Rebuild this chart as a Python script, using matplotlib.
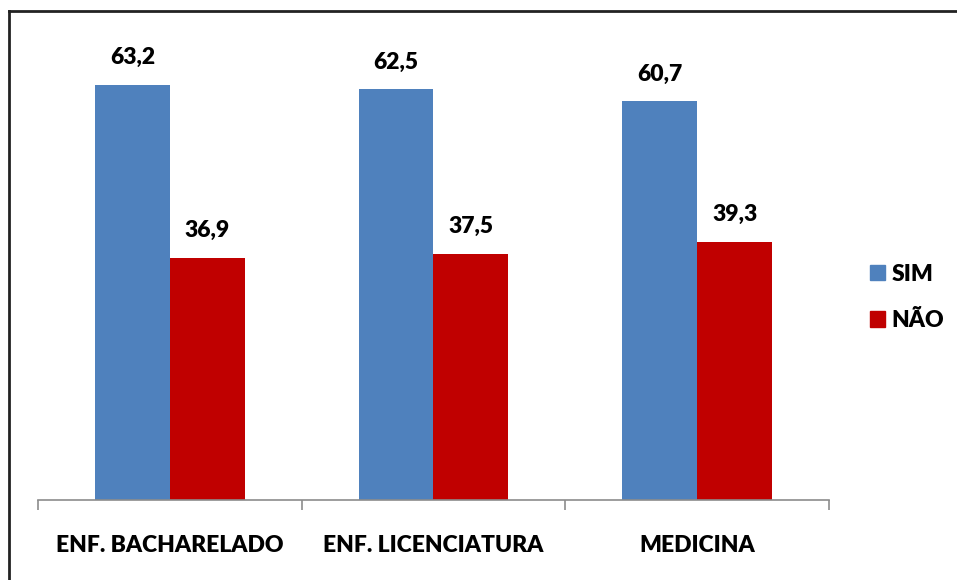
import matplotlib.pyplot as plt
from matplotlib.lines import Line2D
from matplotlib.patches import Patch
import numpy as np

categories = ["ENF. BACHARELADO", "ENF. LICENCIATURA", "MEDICINA"]
sim_values = [63.2, 62.5, 60.7]
nao_values = [36.9, 37.5, 39.3]
series_names = ["SIM", "NÃO"]

BLUE = "#4F81BD"
RED = "#C00000"
AXIS_GRAY = "#8C8C8C"

plt.rcParams["font.family"] = ["Lato", "DejaVu Sans"]

fig = plt.figure(figsize=(9.57, 5.80), dpi=100)
ax = fig.add_axes([38 / 957, 80 / 580, (829 - 38) / 957, 460 / 580])

x = np.arange(len(categories))
w = 0.284
bars_sim = ax.bar(x - w / 2, sim_values, w, color=BLUE)
bars_nao = ax.bar(x + w / 2, nao_values, w, color=RED)

for bars, vals in ((bars_sim, sim_values), (bars_nao, nao_values)):
    for b, v in zip(bars, vals):
        ax.annotate(f"{v:.1f}".replace(".", ","),
                    (b.get_x() + b.get_width() / 2, v),
                    xytext=(0, 12), textcoords="offset points",
                    ha="center", va="bottom", fontsize=16.5, fontweight="heavy")

ax.set_xlim(-0.5, len(categories) - 0.5)
ax.set_ylim(0, 70)
ax.set_yticks([])
for side in ("top", "right", "left"):
    ax.spines[side].set_visible(False)
ax.spines["bottom"].set_color(AXIS_GRAY)
ax.spines["bottom"].set_linewidth(1.2)

ax.set_xticks(np.arange(len(categories) + 1) - 0.5, minor=True)
ax.set_xticks(x)
ax.set_xticklabels(categories, fontsize=16.5, fontweight="heavy")
ax.tick_params(axis="x", which="major", length=0, pad=25)
ax.tick_params(axis="x", which="minor", length=7, width=1.2, color=AXIS_GRAY)

handles = [Patch(color=BLUE), Patch(color=RED)]
fig.legend(handles, series_names, loc="center left",
           bbox_to_anchor=(870 / 957, 1 - 297.5 / 580),
           frameon=False, prop={"weight": "heavy", "size": 16.5},
           handlelength=0.65, handleheight=0.65, handletextpad=0.3,
           labelspacing=1.1, borderpad=0, borderaxespad=0)

# border visible along top and left edge
fig.add_artist(Line2D([9 / 957, 1], [1 - 11 / 580, 1 - 11 / 580],
                      transform=fig.transFigure, color="#222222", lw=2))
fig.add_artist(Line2D([9 / 957, 9 / 957], [0, 1 - 11 / 580],
                      transform=fig.transFigure, color="#222222", lw=2))

fig.savefig("out.png", dpi=100)
